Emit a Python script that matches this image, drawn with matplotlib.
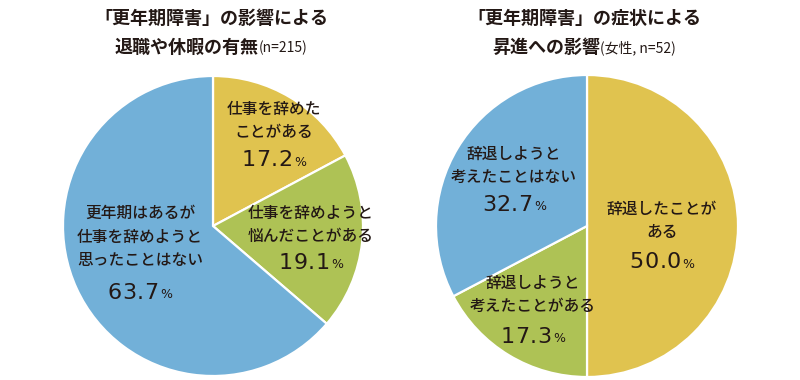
import matplotlib
matplotlib.use('Agg')
import matplotlib.pyplot as plt

plt.rcParams['font.family'] = ['Noto Sans CJK JP', 'DejaVu Sans']

# data
left_title = '「更年期障害」の影響による'
left_sub = '退職や休暇の有無'
left_note = '(n=215)'
left_labels = ['仕事を辞めた\nことがある', '仕事を辞めようと\n悩んだことがある',
               '更年期はあるが\n仕事を辞めようと\n思ったことはない']
left_values = [17.2, 19.1, 63.7]

right_title = '「更年期障害」の症状による'
right_sub = '昇進への影響'
right_note = '(女性, n=52)'
right_labels = ['辞退したことが\nある', '辞退しようと\n考えたことがある',
                '辞退しようと\n考えたことはない']
right_values = [50.0, 17.3, 32.7]

colors = ['#E0C34F', '#AEC255', '#72B0D8']
text_color = '#231815'

W, H = 800, 380
fig = plt.figure(figsize=(8, 3.8), dpi=100)
ax = fig.add_axes([0, 0, 1, 1])


def py(y):
    # pixel row (from top) -> data y
    return H - y


# pies
ax.pie(left_values, colors=colors, startangle=90, counterclock=False,
       center=(213, py(226)), radius=150, frame=True,
       wedgeprops=dict(edgecolor='white', linewidth=1.6))
ax.pie(right_values, colors=colors, startangle=90, counterclock=False,
       center=(587, py(226)), radius=151, frame=True,
       wedgeprops=dict(edgecolor='white', linewidth=1.6))

ax.set_xlim(0, W)
ax.set_ylim(0, H)
ax.set_aspect('auto')
ax.axis('off')

renderer = fig.canvas.get_renderer()


def title(xc, line1, line2, note):
    ax.text(xc, py(18), line1, ha='center', va='center', fontsize=13,
            fontweight='bold', color=text_color)
    t2 = ax.text(0, py(47), line2, ha='left', va='center', fontsize=13,
                 fontweight='bold', color=text_color)
    t3 = ax.text(0, py(48), note, ha='left', va='center', fontsize=10,
                 color=text_color)
    w2 = t2.get_window_extent(renderer).width
    w3 = t3.get_window_extent(renderer).width
    x0 = xc - (w2 + w3) / 2
    t2.set_x(x0)
    t3.set_x(x0 + w2)


def spaced(chars, y, size, track):
    # draw characters one by one with extra tracking, return the text objects and total width
    objs, widths = [], []
    for ch in chars:
        t = ax.text(0, y, ch, ha='left', va='center', fontsize=size,
                    color=text_color, family='DejaVu Sans')
        objs.append(t)
        widths.append(t.get_window_extent(renderer).width)
    total = sum(widths) + track * (len(chars) - 1)
    return objs, widths, total


def label(xc, yblock, ynum, text, value):
    ax.text(xc, py(yblock), text, ha='center', va='center', fontsize=11.3,
            linespacing=1.5, fontweight='medium', color=text_color)
    track = 0.5
    objs, widths, total = spaced('%.1f' % value, py(ynum), 16, track)
    tp = ax.text(0, py(ynum + 2), '%', ha='left', va='center', fontsize=9,
                 color=text_color, family='DejaVu Sans')
    wp = tp.get_window_extent(renderer).width
    x = xc - (total + wp + 1.5) / 2
    for t, w in zip(objs, widths):
        t.set_x(x)
        x += w + track
    tp.set_x(x + 1)


title(211, left_title, left_sub, left_note)
title(584, right_title, right_sub, right_note)

left_pos = [(274, 121, 160), (311, 225, 263), (140, 237, 293)]
right_pos = [(662, 221, 262), (533, 295, 337), (514, 166, 205)]

for (x, yb, yn), t, v in zip(left_pos, left_labels, left_values):
    label(x, yb, yn, t, v)
for (x, yb, yn), t, v in zip(right_pos, right_labels, right_values):
    label(x, yb, yn, t, v)

fig.savefig('out.png', dpi=100)
